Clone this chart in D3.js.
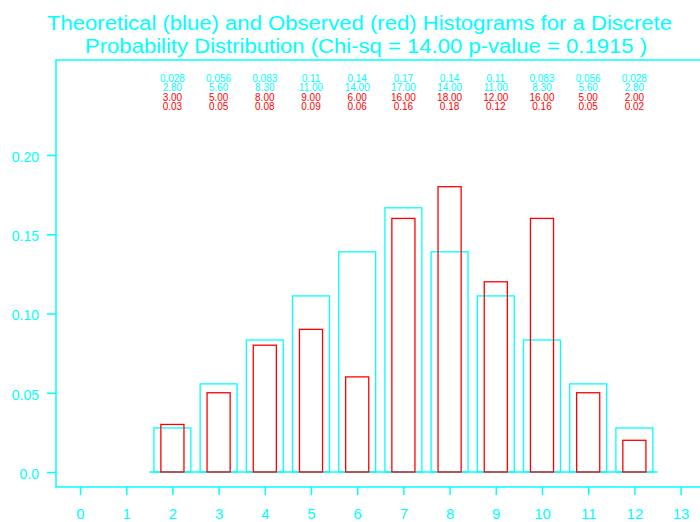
<!DOCTYPE html>
<html><head><meta charset="utf-8">
<script src="https://cdn.jsdelivr.net/npm/d3@7"></script>
<style>body{margin:0;background:#fff}svg{display:block}text{font-family:"Liberation Sans",Arial,sans-serif}</style>
</head><body>
<script>
const categories = [2,3,4,5,6,7,8,9,10,11,12];
const theoProb = [0.0278,0.0556,0.0833,0.1111,0.1389,0.1667,0.1389,0.1111,0.0833,0.0556,0.0278];
const theoLabels = ["0.028","0.056","0.083","0.11","0.14","0.17","0.14","0.11","0.083","0.056","0.028"];
const expected = ["2.80","5.60","8.30","11.00","14.00","17.00","14.00","11.00","8.30","5.60","2.80"];
const observed = ["3.00","5.00","8.00","9.00","6.00","16.00","18.00","12.00","16.00","5.00","2.00"];
const obsProb = [0.03,0.05,0.08,0.09,0.06,0.16,0.18,0.12,0.16,0.05,0.02];
const obsLabels = ["0.03","0.05","0.08","0.09","0.06","0.16","0.18","0.12","0.16","0.05","0.02"];
const xTicks = [0,1,2,3,4,5,6,7,8,9,10,11,12,13];
const yTicks = [0,0.05,0.10,0.15,0.20];
const yTickLabels = ["0.0","0.05","0.10","0.15","0.20"];
const titleLines = ["Theoretical (blue) and Observed (red) Histograms for a Discrete",
                    "Probability Distribution (Chi-sq = 14.00 p-value = 0.1915 )"];

(function(){
const W=700,H=522, CY="#00ffff", RD="#ff0000";
const svg=d3.select("body").append("svg").attr("width",W).attr("height",H);
const x=d3.scaleLinear().domain([-0.52,13.52]).range([56,704.6]);
const y=d3.scaleLinear().domain([0,0.2]).range([472,155]);

// title
svg.append("text").attr("x",47).attr("y",30).attr("fill",CY).attr("font-size",20)
  .attr("textLength",625).attr("lengthAdjust","spacingAndGlyphs").text(titleLines[0]);
svg.append("text").attr("x",85).attr("y",53).attr("fill",CY).attr("font-size",20)
  .attr("textLength",562).attr("lengthAdjust","spacingAndGlyphs").text(titleLines[1]);

// frame
const fTop=60,fBot=487,fLeft=56;
svg.append("path").attr("d",`M${W+10},${fTop}H${fLeft}V${fBot}H${W+10}`)
  .attr("fill","none").attr("stroke",CY).attr("stroke-width",1.5);

// axes
const xa=svg.append("g").attr("transform",`translate(0,${fBot})`)
  .call(d3.axisBottom(x).tickValues(xTicks).tickFormat(d3.format("d")).tickSize(8).tickSizeOuter(0));
xa.select(".domain").remove();
xa.selectAll("line").attr("stroke",CY).attr("stroke-width",1.5);
xa.selectAll("text").attr("fill",CY).attr("font-size",15).attr("dy",null).attr("y",32)
  .attr("font-family","Liberation Sans, Arial, sans-serif");

const ya=svg.append("g").attr("transform",`translate(${fLeft},0)`)
  .call(d3.axisLeft(y).tickValues(yTicks).tickFormat((d,i)=>yTickLabels[i]).tickSize(9).tickPadding(8).tickSizeOuter(0));
ya.select(".domain").remove();
ya.selectAll("line").attr("stroke",CY).attr("stroke-width",1.5);
ya.selectAll("text").attr("fill",CY).attr("font-size",14).attr("dy","0.45em")
  .attr("font-family","Liberation Sans, Arial, sans-serif");

// baseline
svg.append("line").attr("x1",x(1.5)).attr("x2",x(12.5)).attr("y1",y(0)).attr("y2",y(0))
  .attr("stroke",CY).attr("stroke-width",1.3);

// theoretical bars
svg.append("g").selectAll("rect").data(categories).join("rect")
  .attr("x",(d)=>x(d-0.4)).attr("width",(d)=>x(d+0.4)-x(d-0.4))
  .attr("y",(d,i)=>y(theoProb[i])).attr("height",(d,i)=>y(0)-y(theoProb[i]))
  .attr("fill","none").attr("stroke",CY).attr("stroke-width",1.3);

// observed bars
svg.append("g").selectAll("rect").data(categories).join("rect")
  .attr("x",(d)=>x(d-0.25)).attr("width",(d)=>x(d+0.25)-x(d-0.25))
  .attr("y",(d,i)=>y(obsProb[i])).attr("height",(d,i)=>y(0)-y(obsProb[i]))
  .attr("fill","none").attr("stroke",RD).attr("stroke-width",1.3);

// top labels
const rows=[[theoLabels,CY,81.5],[expected,CY,91],[observed,RD,100.5],[obsLabels,RD,110]];
rows.forEach(([arr,col,yy])=>{
  svg.append("g").selectAll("text").data(categories).join("text")
    .attr("x",d=>x(d)).attr("y",yy).attr("text-anchor","middle")
    .attr("font-size",10).attr("fill",col).text((d,i)=>arr[i]);
});
})();
</script>
</body></html>
